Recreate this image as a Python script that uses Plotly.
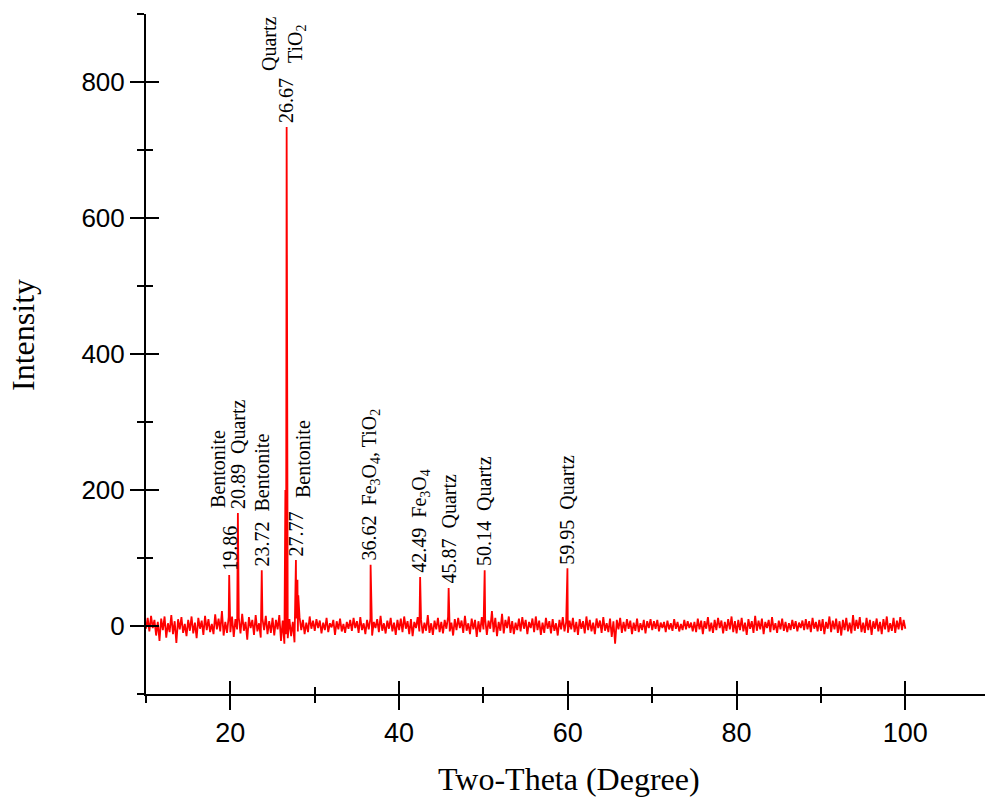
import plotly.graph_objects as go

# ---- XRD pattern data ----
# Background scan: 2-theta from 10.0 to 100.0 in 0.2 degree steps
scan_start = 10.0
scan_step = 0.2
background = [
    -4, 12, -8, 15, -3, 9, -14, 6, -22, 11, -6, 14, -17, 4, -9, 16, -12, 7, -25, 10, -5, 13, -10, 3, -15,
    9, -7, 14, -11, 5, -18, 12, -4, 8, -13, 15, -6, 10, -9, 3, -12, 17, -5, 11, -8, 22, -14, 6, -10, 13,
    -9, 14, -16, 10, -5, 12, -11, 18, -7, 6, -20, 13, -3, 9, -13, 16, -8, 4, -17, 11, -6, 15, -12, 7, -10,
    12, -14, 9, -5, 16, -22, 8, -26, 14, -18, 10, -15, 6, -24, 11, -8, 13, -6, 9, -12, 5, -9, 14, -4, 8,
    -7, 10, -3, 8, -11, 5, -6, 12, -9, 4, -2, 9, -13, 7, -5, 11, -8, 3, -10, 6, -4, 9, -7, 12, -3,
    7, -10, 13, -6, 4, -12, 9, -5, 11, -14, 6, -3, 10, -9, 15, -7, 4, -11, 8, -4, 12, -8, 5, -13, 9,
    -6, 11, -9, 14, -4, 7, -12, 10, -15, 6, -3, 13, -8, 9, -11, 5, -7, 16, -10, 4, -13, 8, -5, 12, -9,
    6, -11, 9, -4, 13, -8, 5, -14, 10, -6, 12, -3, 8, -10, 15, -7, 4, -12, 11, -5, 9, -16, 7, -9, 13,
    -5, 10, -13, 8, -4, 22, -9, 12, -15, 6, -7, 18, -11, 9, -3, 14, -10, 7, -12, 5, -6, 11, -8, 13, -4,
    9, -12, 6, -3, 11, -9, 14, -6, 8, -13, 5, -10, 12, -4, 7, -11, 10, -7, 4, -14, 9, -5, 13, -8, 6,
    -10, 8, -5, 12, -9, 6, -13, 10, -4, 7, -11, 14, -6, 9, -8, 5, -12, 11, -3, 8, -10, 13, -7, 4, -9,
    11, -16, 7, -26, 9, -5, 12, -10, 6, -8, 10, -4, 8, -12, 5, -7, 11, -9, 4, -6, 9, -11, 7, -3, 10,
    -6, 7, -4, 9, -8, 5, -3, 6, -9, 8, -5, 4, -7, 10, -4, 6, -8, 3, -6, 9, -5, 7, -3, 5, -8,
    6, -9, 11, -5, 8, -12, 7, -4, 13, -8, 5, -10, 9, -6, 12, -3, 8, -11, 6, -7, 10, -5, 14, -9, 7,
    -11, 9, -6, 12, -8, 5, -13, 10, -4, 7, -10, 15, -7, 8, -5, 11, -12, 6, -3, 9, -9, 13, -6, 4, -10,
    8, -5, 11, -7, 6, -9, 4, -6, 9, -4, 7, -8, 5, -3, 8, -6, 10, -5, 7, -9, 12, -4, 6, -8, 9,
    -7, 10, -12, 6, -4, 14, -9, 8, -5, 11, -10, 7, -14, 9, -6, 12, -8, 5, -11, 16, -7, 9, -4, 13, -9,
    5, -10, 12, -6, 9, -13, 7, -4, 11, -8, 6, -12, 10, -5, 14, -9, 4, -7, 12, -10, 8, -5, 13, -6, 9,
    -4,
]

# Diffraction peaks (2-theta, intensity) with their phase assignment
peak_pos = [19.86, 20.89, 23.72, 26.67, 27.77, 36.62, 42.49, 45.87, 50.14, 59.95]
peak_int = [75, 166, 82, 734, 97, 90, 72, 56, 82, 85]
peak_phase = ["Bentonite", "Quartz", "Bentonite", "Quartz<br>TiO<sub>2</sub>", "Bentonite",
              "Fe<sub>3</sub>O<sub>4</sub>, TiO<sub>2</sub>", "Fe<sub>3</sub>O<sub>4</sub>",
              "Quartz", "Quartz", "Quartz"]

# Shoulder points on the flanks of the strongest reflections
shoulder_pos = [26.52, 26.58, 26.76, 27.95, 28.05]
shoulder_int = [200, -12, 290, 68, 45]

# ---- assemble the pattern ----
pts = [(round(scan_start + i * scan_step, 2), v) for i, v in enumerate(background)]
pts += list(zip(peak_pos, peak_int))
pts += list(zip(shoulder_pos, shoulder_int))
pts.sort(key=lambda p: p[0])
two_theta = [p[0] for p in pts]
intensity = [p[1] for p in pts]

serif = "Liberation Serif, Times New Roman, serif"
sans = "Liberation Sans, Arial, sans-serif"

fig = go.Figure()
fig.add_trace(go.Scatter(
    x=two_theta, y=intensity, mode="lines",
    line=dict(color="#ff0000", width=1.8),
    showlegend=False, hoverinfo="skip",
))
# invisible trace that carries the overlay axes (ticks on the inner side)
fig.add_trace(go.Scatter(x=[None], y=[None], xaxis="x2", yaxis="y2",
                         showlegend=False, hoverinfo="skip"))

x_range = [10, 109.44]
y_range = [-100, 900]

axis_common = dict(showgrid=False, zeroline=False)
fig.update_layout(
    width=985, height=801,
    margin=dict(l=146, r=0, t=14, b=107),
    paper_bgcolor="white", plot_bgcolor="white",
    xaxis=dict(
        range=x_range, tick0=0, dtick=20, ticks="outside", ticklen=14, tickwidth=2,
        tickcolor="black", showline=True, linecolor="black", linewidth=2,
        tickfont=dict(family=sans, size=27, color="black"),
        minor=dict(tick0=0, dtick=10, ticks="outside", ticklen=7, tickwidth=2, tickcolor="black"),
        **axis_common,
    ),
    yaxis=dict(
        range=y_range, tick0=0, dtick=200, ticks="outside", ticklen=14, tickwidth=2,
        tickcolor="black", showline=True, linecolor="black", linewidth=2,
        tickfont=dict(family=sans, size=26, color="black"),
        minor=dict(tick0=0, dtick=100, ticks="outside", ticklen=7, tickwidth=2, tickcolor="black"),
        **axis_common,
    ),
    xaxis2=dict(
        overlaying="x", anchor="y", side="bottom", range=x_range, tick0=0, dtick=20,
        ticks="inside", ticklen=13, tickwidth=2, tickcolor="black", showticklabels=False,
        minor=dict(tick0=0, dtick=10, ticks="inside", ticklen=7, tickwidth=2, tickcolor="black"),
        **axis_common,
    ),
    yaxis2=dict(
        overlaying="y", anchor="x", side="left", range=y_range, tick0=0, dtick=200,
        ticks="inside", ticklen=13, tickwidth=2, tickcolor="black", showticklabels=False,
        minor=dict(tick0=0, dtick=100, ticks="inside", ticklen=7, tickwidth=2, tickcolor="black"),
        **axis_common,
    ),
)

ann = []
lab_font = dict(family=serif, size=20, color="black")


def vlabel(x, y, text, xshift=0, yshift=2):
    ann.append(dict(x=x, y=y, xref="x", yref="y", text=text, textangle=-90,
                    showarrow=False, xanchor="center", yanchor="bottom",
                    xshift=xshift, yshift=yshift, font=lab_font))


for pos, h, phase in zip(peak_pos, peak_int, peak_phase):
    num = f"{pos:.2f}"
    if pos == 19.86:
        vlabel(pos, h, num)
        vlabel(pos, 168, phase, xshift=-11)
    elif pos == 26.67:
        vlabel(pos, h, num)
        vlabel(pos, h, phase, xshift=-3, yshift=54)
    elif pos == 27.77:
        vlabel(pos, h, num)
        vlabel(pos, h, phase, xshift=7, yshift=60)
    else:
        vlabel(pos, h, f"{num}  {phase}")

# axis titles
ann.append(dict(x=0, y=0.528, xref="paper", yref="paper", text="Intensity", textangle=-90,
                showarrow=False, xanchor="center", yanchor="middle", xshift=-123,
                font=dict(family=serif, size=32, color="black")))
ann.append(dict(x=0.5, y=0, xref="paper", yref="paper", text="Two-Theta (Degree)",
                showarrow=False, xanchor="center", yanchor="middle", xshift=3, yshift=-85,
                font=dict(family=serif, size=32, color="black")))
fig.update_layout(annotations=ann)

fig.write_html("out.html")
